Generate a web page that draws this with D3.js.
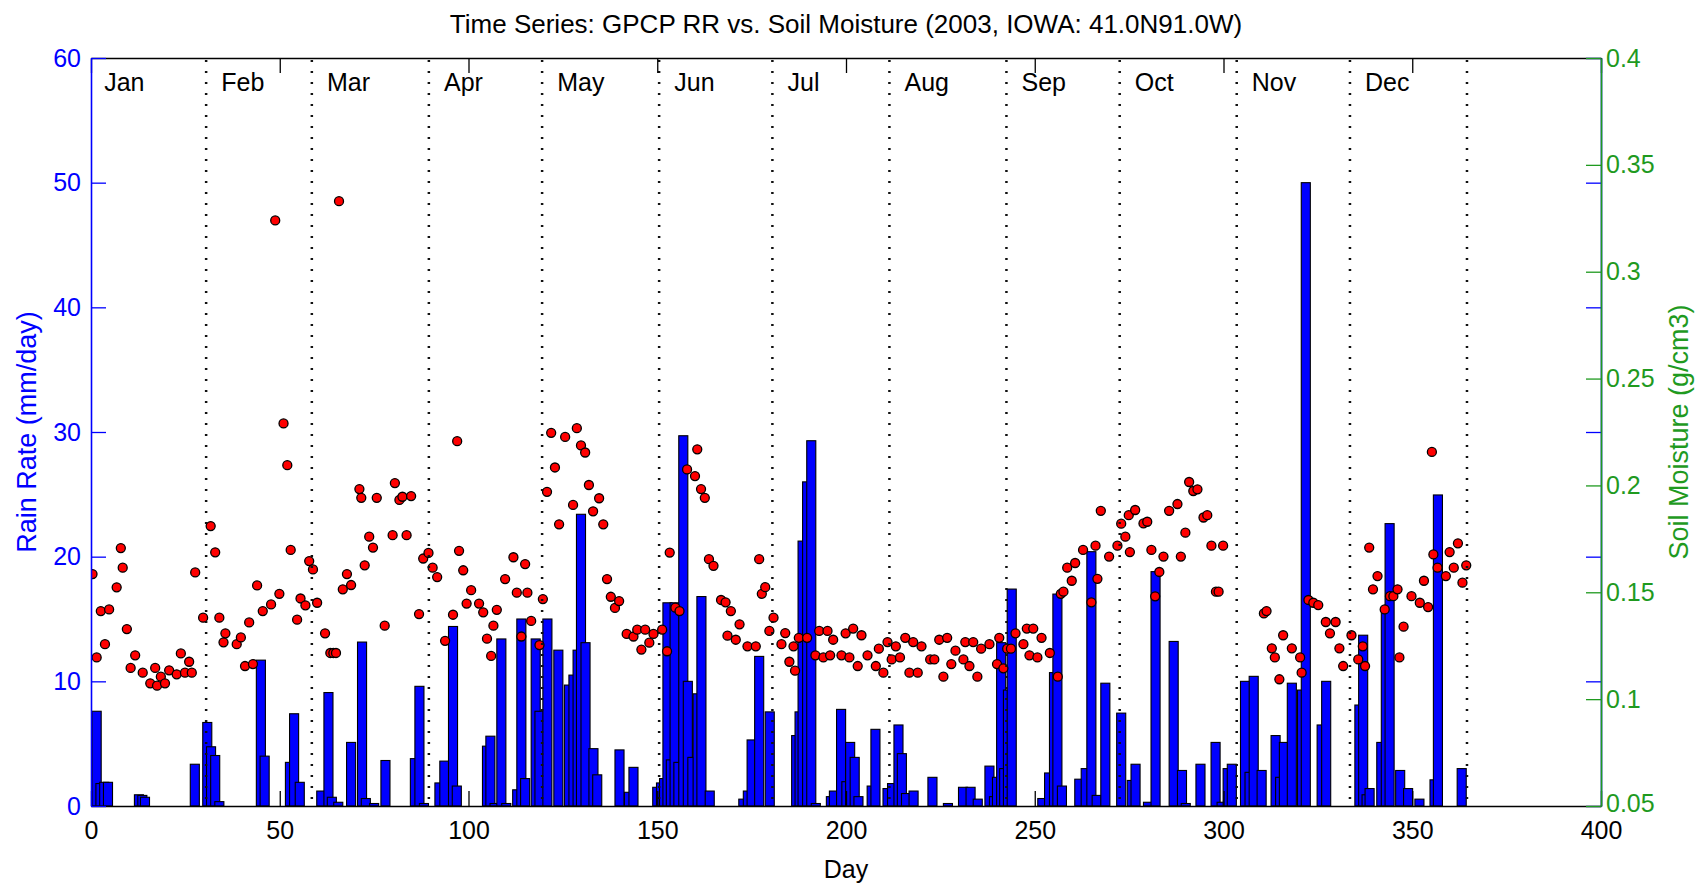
<!DOCTYPE html>
<html><head><meta charset="utf-8">
<script src="https://cdn.jsdelivr.net/npm/d3@7"></script>
<style>
body{margin:0;background:#fff;}
svg text{font-family:"Liberation Sans",Arial,Helvetica,sans-serif;}
</style></head><body>
<svg id="chart" width="1698" height="883"></svg>
<script>
// ---------------- data ----------------
const chartTitle = "Time Series: GPCP RR vs. Soil Moisture (2003, IOWA: 41.0N91.0W)";
const xLabel = "Day";
const yLeftLabel = "Rain Rate (mm/day)";
const yRightLabel = "Soil Moisture (g/cm3)";

const monthNames = ["Jan","Feb","Mar","Apr","May","Jun","Jul","Aug","Sep","Oct","Nov","Dec"];
const monthStarts = [0,31,59,90,120,151,181,212,243,273,304,334];
const monthEnds = [31,59,90,120,151,181,212,243,273,304,334,365];

const xTicks = [0,50,100,150,200,250,300,350,400];
const yLeftTicks = [0,10,20,30,40,50,60];
const yRightTicks = [0.05,0.1,0.15,0.2,0.25,0.3,0.35,0.4];
const yRightTickLabels = ["0.05","0.1","0.15","0.2","0.25","0.3","0.35","0.4"];

// GPCP rain rate (mm/day), non-zero days
const rainDays = [1.5,2.5,3.5,4.5,12.7,13.6,14.3,27.5,30.8,31.8,32.9,34.0,45.0,46.0,52.7,53.8,55.3,61.0,62.9,63.8,65.5,68.9,71.8,72.8,75.0,78.0,85.8,87.0,88.2,92.3,93.6,95.9,96.9,104.9,105.8,106.9,108.7,110.0,112.9,114.0,115.0,117.8,118.8,120.9,123.8,126.6,127.8,128.9,129.8,131.0,133.1,134.1,140.0,142.5,143.7,150.0,151.0,151.8,152.7,153.6,154.6,155.6,156.9,158.1,159.3,160.7,161.7,163.9,172.8,174.0,175.0,177.0,179.8,186.8,187.7,188.5,189.7,190.8,192.0,196.0,196.8,198.7,200.1,201.1,202.3,203.3,206.8,207.8,211.0,212.2,213.9,214.8,215.9,217.9,222.9,227.0,231.0,233.0,234.9,238.0,239.2,240.0,241.1,241.9,242.9,243.9,252.0,253.8,255.1,256.0,257.2,261.8,263.5,265.0,266.4,268.7,272.9,275.7,276.7,280.0,282.0,286.8,289.0,290.0,293.9,297.9,299.5,301.1,302.2,305.7,306.9,308.0,310.1,313.8,315.0,316.0,318.1,320.8,321.8,326.0,327.2,336.0,337.0,337.9,338.7,341.8,343.0,344.0,346.8,348.9,351.9,355.9,356.8,363.1];
const rainValues = [7.6,1.8,1.9,1.9,0.9,0.85,0.7,3.35,6.7,4.75,4.05,0.35,11.7,4.0,3.5,7.4,1.9,1.2,9.1,0.7,0.3,5.1,13.15,0.6,0.2,3.65,3.8,9.6,0.2,1.85,3.6,14.4,1.6,4.8,5.6,0.2,13.4,0.2,1.3,15.0,2.2,13.4,7.6,15.0,12.5,9.7,10.5,12.5,23.4,13.1,4.6,2.5,4.5,1.1,3.1,1.5,1.85,2.2,16.3,3.7,16.3,3.5,29.7,10.0,3.9,9.0,16.8,1.2,0.55,1.2,5.3,12.0,7.55,5.65,7.55,21.25,26.0,29.3,0.2,0.75,1.2,7.75,1.95,5.1,3.9,0.75,1.6,6.15,1.4,1.8,6.5,4.2,1.0,1.2,2.3,0.2,1.5,1.5,0.55,3.2,0.75,2.3,13.1,3.0,9.3,17.4,0.6,2.65,10.7,17.0,1.6,2.15,3.0,20.4,0.85,9.85,7.45,2.05,3.35,0.3,18.8,13.2,2.85,0.2,3.35,5.1,0.3,3.0,3.35,10.0,2.7,10.4,2.85,5.65,2.3,5.1,9.85,9.3,50.0,6.5,10.0,8.1,13.7,0.9,1.4,5.1,15.85,22.65,2.85,1.4,0.55,2.1,24.95,3.0];

// Soil moisture (g/cm3)
const smDays = [0.4,1.5,2.6,3.7,4.8,6.8,7.9,8.4,9.5,10.5,11.7,13.7,15.7,17.0,17.5,18.5,19.6,20.7,22.7,23.8,24.9,26.0,26.7,27.6,29.7,31.7,32.9,34.0,35.1,35.6,38.6,39.7,40.8,41.9,42.9,44.0,45.5,47.7,48.8,49.9,51.0,52.0,52.9,54.6,55.5,56.8,57.8,58.8,59.9,62.0,63.4,64.2,64.9,65.7,66.7,67.8,68.9,71.1,71.6,72.5,73.7,74.7,75.7,
77.8,79.9,80.5,81.7,82.5,83.6,84.8,86.9,88.0,89.4,90.5,91.7,93.8,95.9,97.0,97.5,98.6,99.5,100.7,102.8,103.9,104.9,106.0,106.6,107.5,109.7,111.9,112.8,114.0,115.0,115.6,116.6,118.8,119.7,120.8,121.9,122.9,124.0,125.6,127.7,128.7,129.8,130.9,131.9,133.0,134.6,135.7,136.7,137.7,138.8,139.9,141.9,143.7,144.7,145.8,146.8,147.9,149.0,151.3,152.6,153.3,
154.8,155.9,157.9,160.0,160.6,161.6,162.6,163.7,164.9,166.9,168.1,168.6,169.5,170.8,171.8,173.9,176.1,177.0,177.7,178.6,179.7,180.8,182.9,183.9,185.0,186.1,186.5,187.5,189.7,191.9,192.9,194.0,195.1,195.8,196.6,198.8,199.9,200.9,201.9,203.1,204.1,205.7,207.9,208.7,209.9,211.0,212.1,213.2,214.3,
215.7,216.8,217.8,219.0,220.0,222.3,223.4,224.7,225.8,226.8,227.9,229.0,231.1,231.6,232.7,233.7,234.8,235.8,238.0,240.0,240.6,241.7,242.7,243.7,244.9,247.0,247.9,248.6,249.6,250.7,251.8,254.0,256.1,256.9,257.6,258.6,259.8,260.7,262.8,265.0,266.1,266.6,267.5,269.7,271.9,272.9,274.0,274.9,275.2,
276.6,278.8,279.8,280.9,281.9,283.0,284.1,285.6,287.8,288.7,289.9,290.9,292.0,293.1,294.7,295.7,296.8,298.0,298.7,299.9,310.7,311.4,312.8,313.6,314.8,315.8,318.1,320.3,320.7,322.5,323.8,325.1,327.1,328.2,329.7,330.7,331.7,333.9,335.7,
336.9,337.5,338.6,339.6,340.8,342.7,344.1,345.0,346.1,346.6,347.7,349.8,352.0,353.1,354.2,355.2,355.6,356.7,358.9,359.9,361.0,362.1,363.3,364.3];
const smValues = [0.1585,0.1195,0.1412,0.1257,0.142,0.1523,0.1707,0.1615,0.1328,0.1146,0.1205,0.1124,0.1074,0.1146,0.1063,0.1105,0.1074,0.1135,0.1116,0.1214,0.1124,0.1175,0.1124,0.1593,0.1381,0.181,0.1687,0.1381,0.1266,0.1308,0.1257,0.1289,0.1155,0.1359,0.1164,0.1532,0.1412,0.1443,0.324,0.1493,0.229,0.2095,0.1698,0.1372,0.1471,0.1439,0.1646,0.1607,0.1451,0.1308,0.1216,0.1216,0.1216,0.333,0.1514,0.1585,0.1534,0.1983,0.1942,0.1626,0.176,0.1709,0.1942,
0.1344,0.1767,0.2011,0.1932,0.1947,0.1767,0.195,0.1398,0.1658,0.1684,0.1615,0.1571,0.1273,0.1395,0.2207,0.1694,0.1603,0.1447,0.151,0.1447,0.1406,0.1283,0.1202,0.1344,0.1418,0.1562,0.1664,0.1498,0.1293,0.1632,0.1498,0.1366,0.1253,0.1468,0.197,0.2246,0.2084,0.1818,0.2227,0.1909,0.2268,0.2187,0.2154,0.2002,0.1879,0.194,0.1818,0.1562,0.1479,0.1427,0.1459,0.1305,0.1293,0.1325,0.1232,0.1325,0.1264,0.1305,0.1325,0.1224,0.1686,
0.1428,0.1412,0.2075,0.2044,0.2169,0.1983,0.1942,0.1655,0.1624,0.1464,0.1453,0.1297,0.1412,0.1278,0.135,0.1247,0.1247,0.1655,0.1493,0.1524,0.1319,0.1381,0.1257,0.1309,0.1175,0.1247,0.1133,0.1287,0.1287,0.1205,0.1319,0.1195,0.1319,0.1205,0.1278,0.1205,0.1308,0.1195,0.133,0.1155,0.1299,0.1205,0.1155,0.1236,0.1124,0.1267,0.1186,0.1247,0.1195,
0.1287,0.1124,0.1267,0.1124,0.1247,0.1186,0.1186,0.1278,0.1105,0.1287,0.1164,0.1227,0.1186,0.1267,0.1155,0.1267,0.1105,0.1236,0.1257,0.1164,0.1287,0.1144,0.1236,0.1236,0.1308,0.1257,0.133,0.1205,0.133,0.1195,0.1287,0.1216,0.1105,0.1493,0.1503,0.1615,0.1554,0.1637,0.1698,0.1453,0.1718,0.1563,0.1881,0.1667,0.1718,0.1821,0.176,0.1861,0.1688,
0.1885,0.1822,0.183,0.1698,0.1481,0.1595,0.1667,0.1881,0.1913,0.1667,0.1779,0.2016,0.1974,0.1982,0.185,0.1861,0.1718,0.1503,0.1503,0.1718,0.1401,0.1412,0.1238,0.1195,0.1093,0.1299,0.1238,0.1195,0.1124,0.1464,0.1451,0.144,0.1361,0.1308,0.1361,0.1238,0.1155,0.1299,0.1186,
0.1247,0.1155,0.1709,0.1514,0.1576,0.142,0.1482,0.1482,0.1514,0.1195,0.1339,0.1482,0.1451,0.1554,0.1431,0.2157,0.1677,0.1615,0.1576,0.1688,0.1615,0.1729,0.1545,0.1626];

// ---------------- drawing ----------------
const W = 1698, H = 883;
const M = {left: 91, right: 1601, top: 58, bottom: 806};
const BLUE = "#0000ff", GREEN = "#1f9a1f", BLACK = "#000";
const FS = 25;

const svg = d3.select("#chart");
svg.append("rect").attr("width", W).attr("height", H).attr("fill", "#fff");

const x = d3.scaleLinear().domain([0, 400]).range([M.left, M.right]);
const yL = d3.scaleLinear().domain([0, 60]).range([M.bottom, M.top]);
const yR = d3.scaleLinear().domain([0.05, 0.4]).range([M.bottom, M.top]);

svg.append("defs").append("clipPath").attr("id", "plotclip")
  .append("rect").attr("x", M.left).attr("y", M.top)
  .attr("width", M.right - M.left).attr("height", M.bottom - M.top);

const plot = svg.append("g").attr("clip-path", "url(#plotclip)");

// bars (drawn in day order, overlapping like the original)
const barHalf = 1.2;
const rain = rainDays.map((d, i) => ({d, v: rainValues[i]}));
plot.append("g").selectAll("rect").data(rain).join("rect")
  .attr("x", p => x(p.d - barHalf))
  .attr("width", p => x(p.d + barHalf) - x(p.d - barHalf))
  .attr("y", p => yL(p.v))
  .attr("height", p => yL(0) - yL(p.v))
  .attr("fill", BLUE).attr("stroke", BLACK).attr("stroke-width", 1.1);

// soil moisture points
const sm = smDays.map((d, i) => ({d, v: smValues[i]}));
plot.append("g").selectAll("circle").data(sm).join("circle")
  .attr("cx", p => x(p.d)).attr("cy", p => yR(p.v)).attr("r", 4.5)
  .attr("fill", "#ff0000").attr("stroke", BLACK).attr("stroke-width", 1.3);

// month separators
plot.append("g").selectAll("line").data(monthEnds).join("line")
  .attr("x1", d => x(d - 0.5)).attr("x2", d => x(d - 0.5))
  .attr("y1", M.top + 2).attr("y2", M.bottom)
  .attr("stroke", "#111").attr("stroke-width", 2.5).attr("stroke-dasharray", "2,9");

// month labels
svg.append("g").selectAll("text").data(monthNames).join("text")
  .attr("x", (m, i) => x(monthStarts[i] + 3.5)).attr("y", 91)
  .attr("font-size", FS).attr("fill", BLACK).text(m => m);

function styleAxis(g, color) {
  g.selectAll(".domain").attr("stroke", color).attr("stroke-width", 1.6);
  g.selectAll(".tick line").attr("stroke", color).attr("stroke-width", 1.3);
  g.selectAll(".tick text").attr("fill", color).attr("font-size", FS)
    .attr("font-family", '"Liberation Sans",Arial,sans-serif');
}

// top mirrored ticks
const gTop = svg.append("g").attr("transform", `translate(0,${M.top})`)
  .call(d3.axisTop(x).tickValues(xTicks).tickSize(-15).tickSizeOuter(0).tickFormat(""));
styleAxis(gTop, BLACK);

// right mirrored blue ticks
const gRB = svg.append("g").attr("transform", `translate(${M.right},0)`)
  .call(d3.axisRight(yL).tickValues(yLeftTicks).tickSize(-15).tickSizeOuter(0).tickFormat(""));
styleAxis(gRB, BLUE);

// bottom axis
const gB = svg.append("g").attr("transform", `translate(0,${M.bottom})`)
  .call(d3.axisBottom(x).tickValues(xTicks).tickSize(-15).tickSizeOuter(0).tickPadding(15).tickFormat(d3.format("d")));
styleAxis(gB, BLACK);

// left axis
const gL = svg.append("g").attr("transform", `translate(${M.left},0)`)
  .call(d3.axisLeft(yL).tickValues(yLeftTicks).tickSize(-15).tickSizeOuter(0).tickPadding(10).tickFormat(d3.format("d")));
styleAxis(gL, BLUE);

// right green axis
const gR = svg.append("g").attr("transform", `translate(${M.right},0)`)
  .call(d3.axisRight(yR).tickValues(yRightTicks).tickSize(-15).tickSizeOuter(0).tickPadding(5)
    .tickFormat((d, i) => yRightTickLabels[i]));
styleAxis(gR, GREEN);
// keep the lowest right label clear of the "400" x label
gR.selectAll(".tick text").filter((d, i) => i === 0).attr("dy", "0.2em");

// titles
svg.append("text").attr("x", (M.left + M.right) / 2).attr("y", 33)
  .attr("text-anchor", "middle").attr("font-size", 26).attr("fill", BLACK).text(chartTitle);
svg.append("text").attr("x", (M.left + M.right) / 2).attr("y", 878)
  .attr("text-anchor", "middle").attr("font-size", FS).attr("fill", BLACK).text(xLabel);
svg.append("text").attr("transform", `translate(36,${(M.top + M.bottom) / 2}) rotate(-90)`)
  .attr("text-anchor", "middle").attr("font-size", 27).attr("fill", BLUE).text(yLeftLabel);
svg.append("text").attr("transform", `translate(1688,${(M.top + M.bottom) / 2}) rotate(-90)`)
  .attr("text-anchor", "middle").attr("font-size", 27).attr("fill", GREEN).text(yRightLabel);
</script>
</body></html>
